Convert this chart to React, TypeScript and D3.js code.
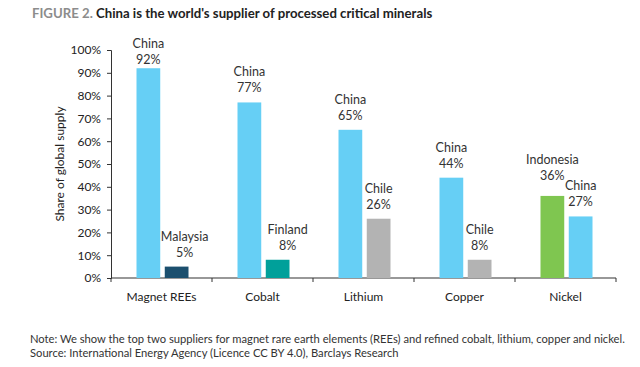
import React, { useEffect, useRef } from 'react';
import * as d3 from 'd3';

const categories = ['Magnet REEs', 'Cobalt', 'Lithium', 'Copper', 'Nickel'];
const firstNames = ['China', 'China', 'China', 'China', 'Indonesia'];
const firstValues = [92, 77, 65, 44, 36];
const secondNames = ['Malaysia', 'Finland', 'Chile', 'Chile', 'China'];
const secondValues = [5, 8, 26, 8, 27];
const yTicks = [0, 10, 20, 30, 40, 50, 60, 70, 80, 90, 100];

const countryColor: Record<string, string> = {
  China: '#66cff5',
  Malaysia: '#1b4f6e',
  Finland: '#00a09a',
  Chile: '#b3b3b3',
  Indonesia: '#7fc650',
};

// hand placed label tweaks, [dx, dy]
const labelNudge: Record<string, number[]> = {
  'Magnet REEs-0': [0, 6],
  'Magnet REEs-1': [8, 0],
  'Cobalt-1': [10, 0],
  'Nickel-0': [0, -6],
};

const FONT = 'Lato, "Open Sans", sans-serif';

const App = () => {
  const svgRef = useRef<SVGSVGElement>(null);

  useEffect(() => {
    const svg = d3.select(svgRef.current);
    svg.selectAll('*').remove();

    const left = 111, right = 616, top = 50, bottom = 278;

    const x = d3.scaleBand<string>().domain(categories).range([left, right]).padding(0);
    const y = d3.scaleLinear().domain([0, 100]).range([bottom, top]);

    // title
    const title = svg.append('text')
      .attr('x', 32).attr('y', 18)
      .attr('font-family', FONT).attr('font-size', 13.2).attr('font-weight', 'bold');
    title.append('tspan').attr('fill', '#8c8c8c').text('FIGURE 2. ');
    title.append('tspan').attr('fill', '#222').text("China is the world's supplier of processed critical minerals");

    // y axis
    const yAxis = svg.append('g').attr('transform', `translate(${left},0)`)
      .call(d3.axisLeft(y).tickValues(yTicks).tickSize(4).tickFormat(d => `${d}%`));
    yAxis.select('.domain').attr('stroke', '#333');
    yAxis.selectAll('line').attr('stroke', '#333');
    yAxis.selectAll('text').attr('font-family', FONT).attr('font-size', 12).attr('fill', '#222').attr('x', -10);

    svg.append('text')
      .attr('transform', `translate(64,${(top + bottom) / 2}) rotate(-90)`)
      .attr('text-anchor', 'middle')
      .attr('font-family', FONT).attr('font-size', 12).attr('fill', '#222')
      .text('Share of global supply');

    // x axis
    const xg = svg.append('g');
    xg.append('line').attr('x1', left).attr('x2', right).attr('y1', bottom).attr('y2', bottom).attr('stroke', '#333').attr('stroke-width', 1.2);
    const bounds = categories.map(c => x(c) as number).concat([right]);
    xg.selectAll('.tick').data(bounds).enter().append('line')
      .attr('x1', d => d).attr('x2', d => d).attr('y1', bottom).attr('y2', bottom + 4).attr('stroke', '#333');
    xg.selectAll('.lab').data(categories).enter().append('text')
      .attr('x', d => (x(d) as number) + x.bandwidth() / 2).attr('y', 301)
      .attr('text-anchor', 'middle')
      .attr('font-family', FONT).attr('font-size', 12).attr('fill', '#222')
      .text(d => d);

    // bars
    const sub = d3.scaleBand<number>().domain([0, 1]).range([-26, 26]).paddingInner(0.16);
    const bars = categories.flatMap((c, i) => [
      { cat: c, k: 0, name: firstNames[i], value: firstValues[i] },
      { cat: c, k: 1, name: secondNames[i], value: secondValues[i] },
    ]);
    const center = (c: string) => (x(c) as number) + x.bandwidth() / 2 + 1;

    const g = svg.append('g');
    g.selectAll('rect').data(bars).enter().append('rect')
      .attr('x', d => center(d.cat) + (sub(d.k) as number))
      .attr('width', sub.bandwidth())
      .attr('y', d => y(d.value))
      .attr('height', d => bottom - y(d.value))
      .attr('fill', d => countryColor[d.name]);

    const lab = g.selectAll('.lbl').data(bars).enter().append('g')
      .attr('transform', d => {
        const [dx, dy] = labelNudge[`${d.cat}-${d.k}`] || [0, 0];
        return `translate(${center(d.cat) + (sub(d.k) as number) + sub.bandwidth() / 2 + dx},${y(d.value) + dy})`;
      });
    lab.append('text').attr('y', -26).attr('text-anchor', 'middle')
      .attr('font-family', FONT).attr('font-size', 12.5).attr('fill', '#333').text(d => d.name);
    lab.append('text').attr('y', -10).attr('text-anchor', 'middle')
      .attr('font-family', FONT).attr('font-size', 12.5).attr('fill', '#333').text(d => `${d.value}%`);

    // notes
    const notes = [
      'Note: We show the top two suppliers for magnet rare earth elements (REEs) and refined cobalt, lithium, copper and nickel.',
      'Source: International Energy Agency (Licence CC BY 4.0), Barclays Research',
    ];
    svg.selectAll('.note').data(notes).enter().append('text')
      .attr('x', 30).attr('y', (d, i) => 343 + i * 14)
      .attr('font-family', FONT).attr('font-size', 11.2).attr('fill', '#333')
      .text(d => d);
  }, []);

  return <svg ref={svgRef} width={640} height={367} style={{ position: 'absolute', left: 0, top: 0, background: '#fff' }} />;
};

export default App;
